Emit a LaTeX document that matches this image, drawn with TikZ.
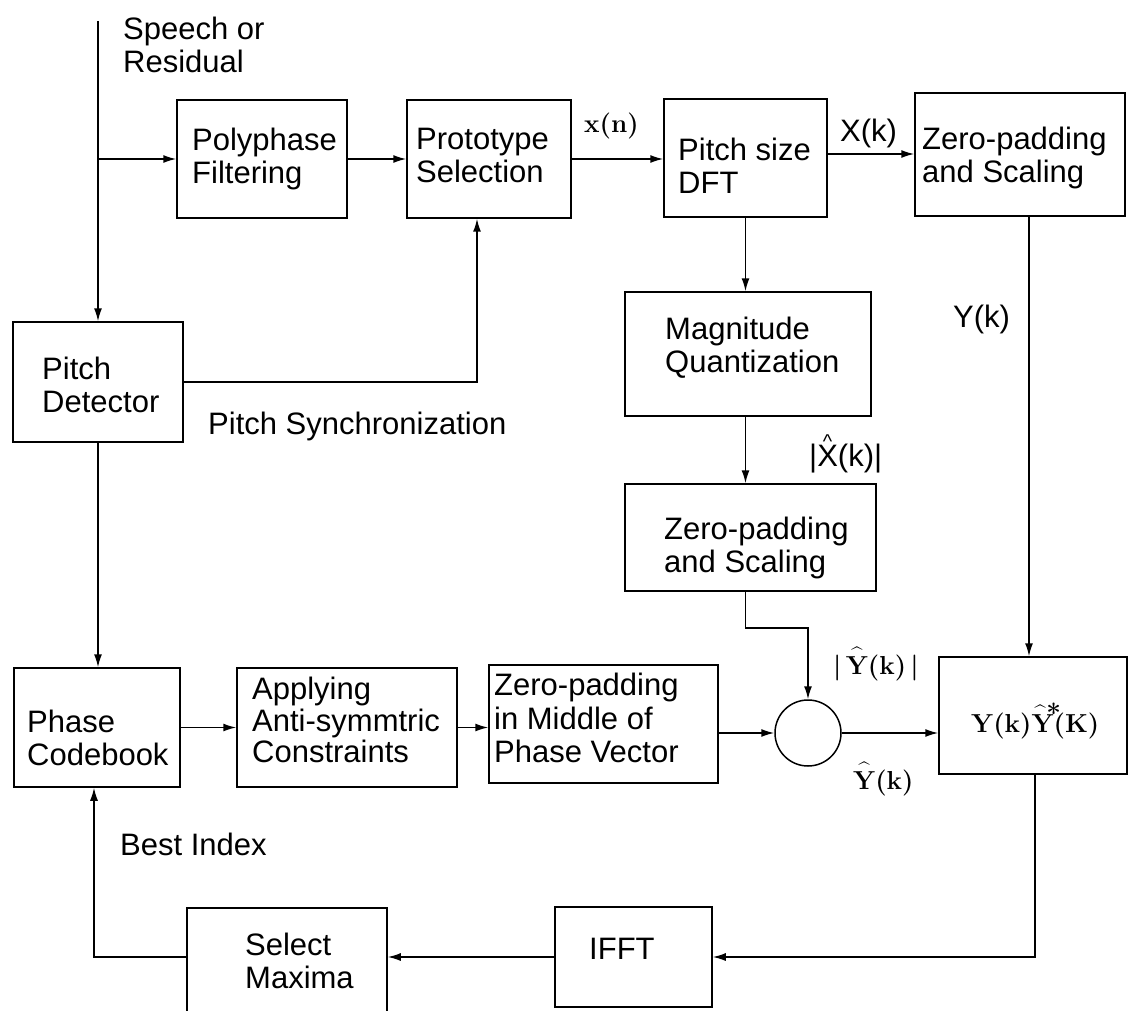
\documentclass[tikz,border=0pt]{standalone}
\usepackage{fontspec}
\newfontfamily\hv{Liberation Sans}
\usetikzlibrary{arrows.meta,calc}
\newcommand\rmhat[1]{\ooalign{#1\cr\hidewidth\raisebox{0.5em}{\fontsize{20}{20}\selectfont\textasciicircum}\hidewidth\cr}}
\newcommand\sfhat[1]{\ooalign{#1\cr\hidewidth\raisebox{0.55em}{\fontsize{20}{20}\selectfont\textasciicircum}\hidewidth\cr}}
\newcommand\rmhatstar[1]{\ooalign{#1\cr\hidewidth\raisebox{0.5em}{\fontsize{20}{20}\selectfont\textasciicircum}\kern0.02em\raisebox{0.38em}{*}\kern-0.4em\hidewidth\cr}}
\tikzset{
  box/.style={draw, line width=1.5pt, rectangle, inner sep=0pt},
  lbl/.style={font=\hv\fontsize{31}{33}\selectfont, align=left, inner sep=0pt, anchor=north west},
  sflab/.style={font=\hv\fontsize{31}{33}\selectfont, inner sep=0pt, anchor=base west},
  rmlab/.style={font=\bfseries\fontsize{26}{30}\selectfont, inner sep=0pt, anchor=base west},
  conn/.style={line width=1.5pt, -{Latex[length=13pt,width=8pt]}},
}
\begin{document}
\begin{tikzpicture}[x=1pt,y=-1pt]
\useasboundingbox (0,0) rectangle (1130,1011);

% boxes
\node[box, minimum width=170pt, minimum height=118pt] (poly)  at (262,159) {};
\node[box, minimum width=164pt, minimum height=118pt] (proto) at (489,159) {};
\node[box, minimum width=163pt, minimum height=118pt] (dft)   at (745.5,158) {};
\node[box, minimum width=210pt, minimum height=123pt] (zpa)   at (1020,154.5) {};
\node[box, minimum width=170pt, minimum height=120pt] (pd)    at (98,382) {};
\node[box, minimum width=246pt, minimum height=124pt] (mag)   at (748,354) {};
\node[box, minimum width=251pt, minimum height=107pt] (zpb)   at (750.5,537.5) {};
\node[box, minimum width=166pt, minimum height=119pt] (code)  at (97,727.5) {};
\node[box, minimum width=220pt, minimum height=119pt] (apply) at (347,727.5) {};
\node[box, minimum width=229pt, minimum height=118pt] (zpc)   at (603.5,724) {};
\node[box, minimum width=188pt, minimum height=117pt] (prod)  at (1033,715.5) {};
\node[box, minimum width=157pt, minimum height=100pt] (ifft)  at (633.5,957) {};
\node[box, minimum width=200pt, minimum height=108pt] (selmax) at (287,962) {};
\node[draw, line width=1.5pt, circle, minimum size=66pt, inner sep=0pt] (circ) at (808,733) {};

% box texts
\node[lbl] (speech-t) at (123,17) {Speech or\\Residual};
\node[lbl] (poly-t)  at (192,128) {Polyphase\\Filtering};
\node[lbl] (proto-t) at (416,128) {Prototype\\Selection};
\node[lbl] (dft-t)   at (678,138) {Pitch size\\DFT};
\node[lbl] (zpa-t)   at (922,127) {Zero-padding\\and Scaling};
\node[lbl] (pd-t)    at (42,357) {Pitch\\Detector};
\node[lbl] (mag-t)   at (665,317) {Magnitude\\Quantization};
\node[lbl] (zpb-t)   at (664,517) {Zero-padding\\and Scaling};
\node[lbl] (code-t)  at (27,710) {Phase\\Codebook};
\node[lbl, font=\hv\fontsize{31}{31.5}\selectfont] (apply-t) at (252,677) {Applying\\Anti-symmtric\\Constraints};
\node[lbl, font=\hv\fontsize{31}{33.5}\selectfont] (zpc-t)   at (494,673) {Zero-padding\\in Middle of\\Phase Vector};
\node[lbl] (ifft-t)  at (589,938) {IFFT};
\node[lbl] (selmax-t) at (245,933) {Select\\Maxima};
\node[lbl] (sync-t)  at (208,412) {Pitch Synchronization};
\node[lbl] (best-t)  at (120,833) {Best Index};

% signal labels
\node[rmlab] (xn)   at (584,133) {x(n)};
\node[sflab] (Xk)   at (840,142) {X(k)};
\node[sflab] (Yk)   at (953,327) {Y(k)};
\node[sflab] (Xhat) at (809,466) {|\sfhat{X}(k)|};
\node[rmlab] (Yabs) at (833,674) {|\,\rmhat{Y}(k)\,|};
\node[rmlab] (Yhat) at (853,789) {\rmhat{Y}(k)};
\node[rmlab] (prod-t) at (971,732) {Y(k)\rmhatstar{Y}(K)};

% connectors
\coordinate (in) at (98,21);
\draw[conn] (in) -- (pd.north);
\draw[conn] (poly.west -| in) -- (poly.west);
\draw[conn] (poly.east) -- (proto.west);
\draw[conn] (proto.east) -- (proto.east -| dft.west);
\draw[conn] ([yshift=4pt]dft.east) -- ([yshift=4pt]dft.east -| zpa.west);
\draw[conn] (pd.east) -| ([xshift=-12pt]proto.south);
\draw[conn] (pd.south) -- (pd.south |- code.north);
\draw[conn] (dft.south) -- (dft.south |- mag.north);
\draw[conn] (mag.south -| dft.south) -- (zpb.north -| dft.south);
\draw[conn] ([xshift=9pt]zpa.south) -- ([xshift=9pt]zpa.south |- prod.north);
\draw[conn] (zpb.south -| dft.south) -- ++(0,36) -| (circ.north);
\draw[conn] (code.east) -- (code.east -| apply.west);
\draw[conn] (apply.east) -- (apply.east -| zpc.west);
\draw[conn] (zpc.east |- circ.west) -- (circ.west);
\draw[conn] (circ.east) -- (circ.east -| prod.west);
\draw[conn] ([xshift=2pt]prod.south) |- (ifft.east);
\draw[conn] (ifft.west) -- (ifft.west -| selmax.east);
\draw[conn] (ifft.west -| selmax.west) -| ([xshift=-3pt]code.south);
\end{tikzpicture}
\end{document}
